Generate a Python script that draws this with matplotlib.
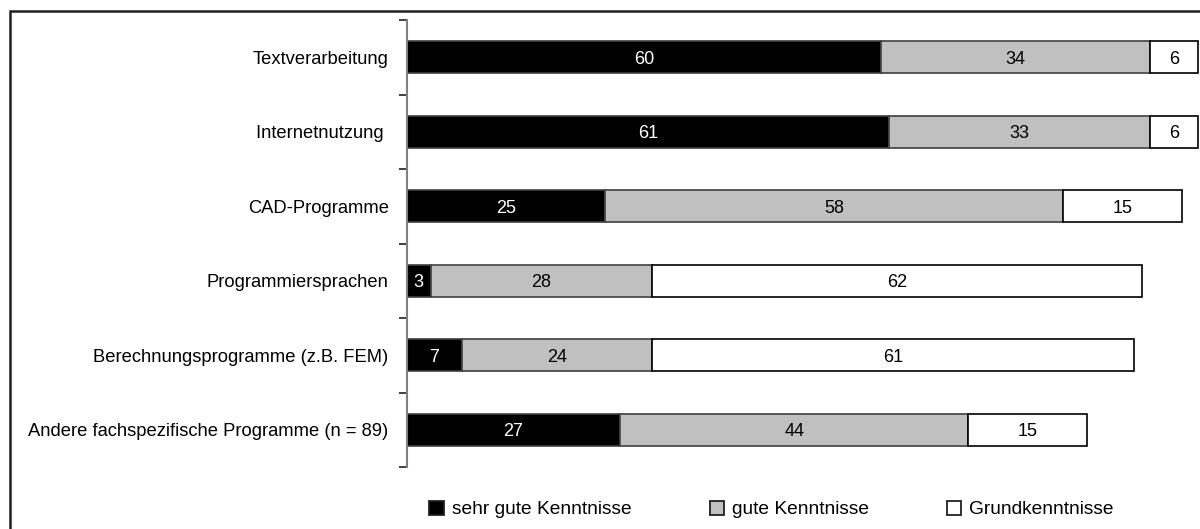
import matplotlib.pyplot as plt
import numpy as np
from matplotlib.patches import Patch, Rectangle

plt.rcParams['font.family'] = ['Liberation Sans Narrow', 'Liberation Sans', 'DejaVu Sans']

# data (percent), top to bottom
kategorien = ['Textverarbeitung', 'Internetnutzung ', 'CAD-Programme', 'Programmiersprachen',
              'Berechnungsprogramme (z.B. FEM)', 'Andere fachspezifische Programme (n = 89)']
sehr_gut = [60, 61, 25, 3, 7, 27]
gut = [34, 33, 58, 28, 24, 44]
grund = [6, 6, 15, 62, 61, 15]

serien = ['sehr gute Kenntnisse', 'gute Kenntnisse', 'Grundkenntnisse']
farben = ['#000000', '#c0c0c0', '#ffffff']
text_farben = ['white', 'black', 'black']
kanten = ['#404040', '#404040', '#000000']

fig = plt.figure(figsize=(12, 5.29), dpi=100)
ax = fig.add_axes([0.339, 0.117, 0.661, 0.845])

y = np.arange(len(kategorien))
links = np.zeros(len(kategorien))
for werte, farbe, tf, kante in zip([sehr_gut, gut, grund], farben, text_farben, kanten):
    werte = np.array(werte)
    bars = ax.barh(y, werte, left=links, height=0.43, color=farbe, edgecolor=kante, linewidth=1.2)
    for b, w in zip(bars, werte):
        ax.text(b.get_x() + b.get_width() / 2, b.get_y() + b.get_height() / 2, str(w),
                ha='center', va='center_baseline', color=tf, fontsize=13)
    links += werte

ax.set_xlim(0, 100.3)
ax.set_ylim(len(kategorien) - 0.5, -0.5)
ax.set_yticks(y)
ax.set_yticklabels(kategorien, fontsize=13.2)
ax.set_yticks(np.arange(-0.5, len(kategorien)), minor=True)
ax.tick_params(axis='y', which='major', length=0, pad=13)
ax.tick_params(axis='y', which='minor', length=6, width=1.2, color='#202020')
ax.set_xticks([])
for s in ['top', 'right', 'bottom']:
    ax.spines[s].set_visible(False)
ax.spines['left'].set_color('#808080')
ax.spines['left'].set_linewidth(1.5)

# legend entries
for name, farbe, xpos in zip(serien, farben, [0.351, 0.585, 0.7825]):
    fig.legend(handles=[Patch(facecolor=farbe, edgecolor='#202020', linewidth=1.3, label=name)],
               loc='center left', bbox_to_anchor=(xpos, 0.037), frameon=False, fontsize=13.8,
               handlelength=0.77, handleheight=0.77, handletextpad=0.42, borderaxespad=0)

# outer frame
fig.patches.append(Rectangle((0.0085, -0.1), 1.2, 1.079, transform=fig.transFigure,
                             fill=False, edgecolor='#202020', linewidth=1.8))

fig.savefig('out.png', dpi=100)
